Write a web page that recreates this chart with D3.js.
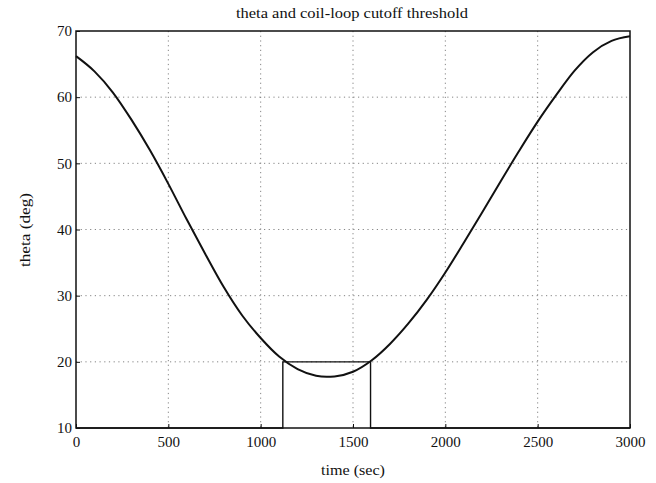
<!DOCTYPE html>
<html>
<head>
<meta charset="utf-8">
<script src="https://cdn.jsdelivr.net/npm/d3@7"></script>
<style>
  html, body { margin: 0; padding: 0; background: #fff; }
  svg { display: block; }
  text { font-family: "Liberation Serif", "DejaVu Serif", serif; fill: #111; }
</style>
</head>
<body>
<svg id="chart" width="656" height="483"></svg>
<script>
// Elevation angle over one pass (seconds, degrees)
const timeSec = [0, 100, 200, 300, 400, 500, 600, 700, 800, 900, 1000, 1100, 1200, 1300,
                 1357, 1400, 1500, 1600, 1700, 1800, 1900, 2000, 2100, 2200, 2300, 2400,
                 2500, 2600, 2700, 2800, 2900, 3000];
const thetaDeg = [66.2, 63.9, 60.7, 56.6, 52.0, 46.9, 41.5, 36.3, 31.3, 27.0, 23.6, 20.8, 18.9, 17.9,
                  17.75, 17.8, 18.5, 20.2, 22.7, 25.8, 29.4, 33.5, 38.0, 42.6, 47.3, 51.9,
                  56.3, 60.3, 64.0, 66.8, 68.5, 69.2];

// Coil-loop cutoff: active while theta is below the 20 deg threshold
const cutoffTime = [0, 1120, 1120, 1595, 1595, 3000];
const cutoffLevel = [10, 10, 20, 20, 10, 10];

const xTicks = [0, 500, 1000, 1500, 2000, 2500, 3000];
const yTicks = [10, 20, 30, 40, 50, 60, 70];

const titleText = "theta and coil-loop cutoff threshold";
const xLabelText = "time (sec)";
const yLabelText = "theta (deg)";

const svg = d3.select("#chart");
const plotLeft = 76, plotRight = 630, plotTop = 31, plotBottom = 428;

const x = d3.scaleLinear().domain([0, 3000]).range([plotLeft, plotRight]);
const y = d3.scaleLinear().domain([10, 70]).range([plotBottom, plotTop]);

// dotted grid
const grid = svg.append("g").attr("stroke", "#333").attr("stroke-width", 0.8)
  .attr("stroke-dasharray", "1.2,3.5").attr("opacity", 0.75);
grid.selectAll(".gx").data(xTicks.slice(1, -1)).join("line")
  .attr("x1", d => x(d)).attr("x2", d => x(d)).attr("y1", plotTop).attr("y2", plotBottom);
grid.selectAll(".gy").data(yTicks.slice(1, -1)).join("line")
  .attr("x1", plotLeft).attr("x2", plotRight).attr("y1", d => y(d)).attr("y2", d => y(d));

// axes with inward ticks
const xAxis = d3.axisBottom(x).tickValues(xTicks).tickSize(-4).tickPadding(6)
  .tickFormat(d3.format("d"));
const yAxis = d3.axisLeft(y).tickValues(yTicks).tickSize(-4).tickPadding(5)
  .tickFormat(d3.format("d"));

const gx = svg.append("g").attr("transform", `translate(0,${plotBottom})`).call(xAxis);
const gy = svg.append("g").attr("transform", `translate(${plotLeft},0)`).call(yAxis);
[gx, gy].forEach(g => {
  g.select(".domain").remove();
  g.selectAll(".tick line").attr("stroke", "#111").attr("stroke-width", 1);
  g.selectAll(".tick text").attr("font-family", "Liberation Serif, serif")
    .attr("font-size", 15).attr("fill", "#111");
});
gx.selectAll(".tick text").attr("dy", "0.85em");
gy.selectAll(".tick text").attr("dx", "1px");

// plot frame
svg.append("rect").attr("x", plotLeft).attr("y", plotTop)
  .attr("width", plotRight - plotLeft).attr("height", plotBottom - plotTop)
  .attr("fill", "none").attr("stroke", "#111").attr("stroke-width", 1.5);

// cutoff threshold trace
const cutoffPts = cutoffTime.map((t, i) => [t, cutoffLevel[i]]);
svg.append("path").datum(cutoffPts)
  .attr("fill", "none").attr("stroke", "#111").attr("stroke-width", 1.4)
  .attr("d", d3.line().x(d => x(d[0])).y(d => y(d[1])));

// theta curve
const thetaPts = timeSec.map((t, i) => [t, thetaDeg[i]]);
svg.append("path").datum(thetaPts)
  .attr("fill", "none").attr("stroke", "#111").attr("stroke-width", 2)
  .attr("d", d3.line().curve(d3.curveMonotoneX).x(d => x(d[0])).y(d => y(d[1])));

// labels
svg.append("text").attr("x", 352).attr("y", 18).attr("text-anchor", "middle")
  .attr("font-size", 15).attr("textLength", 232).attr("lengthAdjust", "spacingAndGlyphs")
  .text(titleText);
svg.append("text").attr("x", 353).attr("y", 475).attr("text-anchor", "middle")
  .attr("font-size", 15).attr("textLength", 64).attr("lengthAdjust", "spacingAndGlyphs")
  .text(xLabelText);
svg.append("text").attr("transform", "translate(30,230) rotate(-90)")
  .attr("text-anchor", "middle").attr("font-size", 15)
  .attr("textLength", 74).attr("lengthAdjust", "spacingAndGlyphs")
  .text(yLabelText);
</script>
</body>
</html>
